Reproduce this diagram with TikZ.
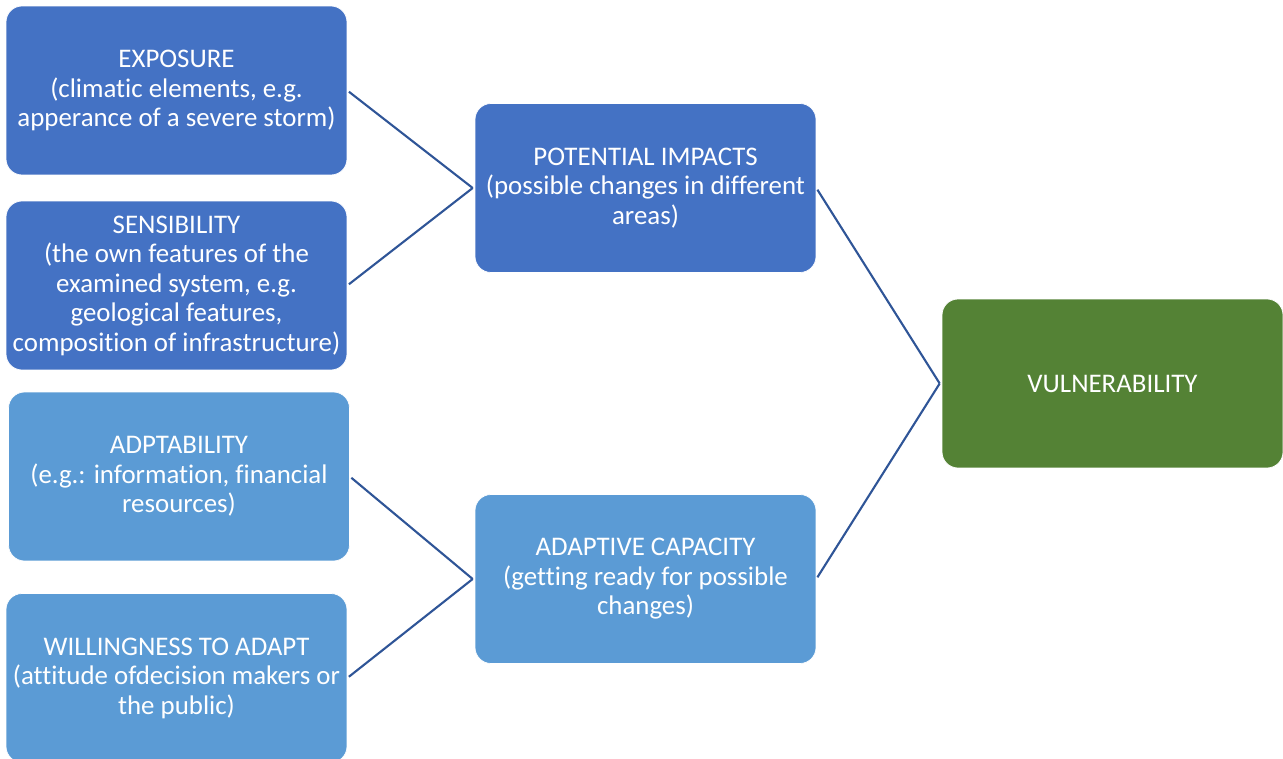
\documentclass[tikz,border=0pt]{standalone}
\usepackage{fontspec}
\setmainfont{Carlito}[Ligatures=NoCommon]
\usepackage{tikz}
\usetikzlibrary{calc}
\definecolor{boxDark}{HTML}{4472C4}
\definecolor{boxLight}{HTML}{5B9BD5}
\definecolor{boxGreen}{HTML}{548235}
\definecolor{linkBlue}{HTML}{2F5597}

\begin{document}
\begin{tikzpicture}[x=0.02cm,y=0.02cm,
  card/.style={rounded corners=0.32cm,draw=white,line width=0.4pt,
    minimum width=6.82cm,minimum height=3.38cm,inner sep=0pt,
    text=white,align=center,font=\fontsize{15.3}{16.8}\selectfont},
  dark/.style={card,fill=boxDark},
  light/.style={card,fill=boxLight},
  green/.style={card,fill=boxGreen},
  link/.style={draw=linkBlue,line width=1.2pt,shorten <=0.04cm}]
  \useasboundingbox (0,0) rectangle (1283,758);
  % left column
  \node[dark] (expo) at (176.5,667.5) {EXPOSURE\\(climatic elements, e.g.\\apperance of a severe storm)};
  \node[dark] (sensi) at (176.5,472.5) {SENSIBILITY\\(the own features of the\\examined system, e.g.\\geological features,\\composition of infrastructure)};
  \node[light] (adapt) at (179,281.5) {ADPTABILITY\\(e.g.: information, financial\\resources)};
  \node[light] (willing) at (176.5,80) {WILLINGNESS TO ADAPT\\(attitude ofdecision makers or\\the public)};
  % middle column
  \node[dark] (impact) at (645.5,570) {POTENTIAL IMPACTS\\(possible changes in different\\areas)};
  \node[light] (capac) at (645.5,179) {ADAPTIVE CAPACITY\\(getting ready for possible\\changes)};
  % result
  \node[green] (vuln) at (1112.5,374.5) {VULNERABILITY};
  % connectors
  \draw[link] (expo.east) -- ([xshift=-0.04cm]impact.west);
  \draw[link] (sensi.east) -- ([xshift=-0.04cm]impact.west);
  \draw[link] (adapt.east) -- ([xshift=-0.04cm]capac.west);
  \draw[link] (willing.east) -- ([xshift=-0.04cm]capac.west);
  \draw[link] (impact.east) -- ([xshift=-0.04cm]vuln.west);
  \draw[link] (capac.east) -- ([xshift=-0.04cm]vuln.west);
\end{tikzpicture}
\end{document}
